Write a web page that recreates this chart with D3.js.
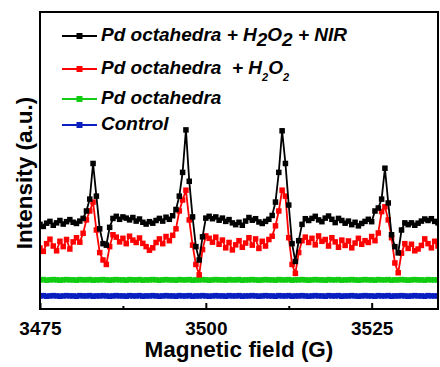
<!DOCTYPE html>
<html>
<head>
<meta charset="utf-8">
<script src="https://cdn.jsdelivr.net/npm/d3@7"></script>
<style>
  body { margin: 0; background: #fff; }
  svg text { font-family: "Liberation Sans", Arial, sans-serif; font-weight: bold; white-space: pre; }
</style>
</head>
<body>
<svg id="chart" width="440" height="367"></svg>
<script>
// field sampling grid (G)
const fieldStart = 3475;
const fieldStep = 0.5;

// intensity values (arbitrary units)
const nirValues = [
  28.5, 27.8, 28.9, 29.5, 28.2, 29.0, 29.8, 28.6, 29.4, 30.1, 29.2, 28.8, 29.6,
  30.5, 33, 37, 49, 38, 27, 22, 21.5, 27.5, 30.5, 31.2,
  30.2, 31.0, 30.6, 30.0, 30.8, 29.6, 30.3, 29.2, 28.6, 29.4, 28.9, 29.8, 30.5, 29.6, 30.9, 30.2, 31.4,
  33.5, 38, 46, 60.3, 43, 31, 21, 16.5, 24.3, 30.6, 31.2,
  30.4, 31.0, 29.9, 30.6, 29.5, 30.1, 29.0, 28.4, 29.2, 28.2, 29.6, 30.8, 29.9, 30.4, 29.3, 28.8, 29.5, 30.2,
  31.5, 36, 46, 60, 49, 35, 22, 16, 23, 28.5, 30.4,
  29.8, 30.5, 31.2, 30.0, 29.4, 30.6, 31.3, 30.2, 29.1, 30.5, 29.8, 28.9, 29.6, 28.4, 29.2, 28.0, 28.8, 29.5, 30.2, 29.4,
  33, 34, 37, 47.4, 35.7, 25, 21, 18.9, 26.6, 29,
  28.4, 29.0, 28.2, 28.9, 29.6, 30.3, 29.8, 30.4, 29.5, 29.0
];
const h2o2Values = [
  20.5, 19.4, 22.0, 23.5, 21.2, 19.6, 22.8, 21.0, 23.4, 20.2, 22.6, 24.0, 22.5,
  25.5, 30, 33, 36, 26.6, 19, 16.5, 15, 21, 25,
  24.2, 22.6, 23.8, 22.0, 24.5, 23.2, 22.4, 23.9, 22.1, 21.0, 19.8, 20.6, 22.4, 23.6, 22.0, 24.4, 23.0, 24.8,
  27, 33, 36.7, 40, 30, 21.5, 15, 11.5, 20, 24.6,
  23.8, 22.5, 24.2, 21.8, 23.2, 20.6, 22.4, 19.9, 21.6, 23.0, 20.8, 22.2, 24.0, 21.5, 23.6, 20.4, 22.8, 21.2, 23.4,
  24.5, 28, 33, 40, 38, 24, 15, 12, 19, 23,
  24.2, 22.4, 23.8, 21.6, 24.6, 22.8, 23.4, 21.2, 24.0, 22.6, 20.8, 23.2, 21.4, 22.9, 20.6, 22.2, 23.8, 21.8, 23.0, 22.4, 24.4,
  23, 25.6, 32.8, 34.4, 30, 24, 15.5, 12.2, 18.8, 22,
  20.4, 21.8, 19.6, 20.2, 21.4, 23.6, 22.0, 20.6, 22.8, 21.2
];
const pdValues = [
  9.8, 9.9, 9.7, 9.8, 9.9, 9.8, 9.7, 9.8, 9.9, 9.8, 9.8, 9.7, 9.9, 9.8, 9.8, 9.9, 9.7, 9.8, 9.8, 9.9,
  9.8, 9.7, 9.8, 9.9, 9.8, 9.8, 9.7, 9.9, 9.8, 9.8, 9.9, 9.7, 9.8, 9.8, 9.9, 9.8, 9.7, 9.8, 9.9, 9.8,
  9.8, 9.7, 9.9, 9.8, 9.8, 9.9, 9.7, 9.8, 9.8, 9.9, 9.8, 9.7, 9.8, 9.9, 9.8, 9.8, 9.7, 9.9, 9.8, 9.8,
  9.9, 9.7, 9.8, 9.8, 9.9, 9.8, 9.7, 9.8, 9.9, 9.8, 9.8, 9.7, 9.9, 9.8, 9.8, 9.9, 9.7, 9.8, 9.8, 9.9,
  9.8, 9.7, 9.8, 9.9, 9.8, 9.8, 9.7, 9.9, 9.8, 9.8, 9.9, 9.7, 9.8, 9.8, 9.9, 9.8, 9.7, 9.8, 9.9, 9.8,
  9.8, 9.7, 9.9, 9.8, 9.8, 9.9, 9.7, 9.8, 9.8, 9.9, 9.8, 9.7, 9.8, 9.9, 9.8, 9.8, 9.7, 9.9, 9.8, 9.8,
  9.8
];
const controlValues = [
  4.4, 4.5, 4.3, 4.4, 4.5, 4.4, 4.3, 4.4, 4.5, 4.4, 4.4, 4.3, 4.5, 4.4, 4.4, 4.5, 4.3, 4.4, 4.4, 4.5,
  4.4, 4.3, 4.4, 4.5, 4.4, 4.4, 4.3, 4.5, 4.4, 4.4, 4.5, 4.3, 4.4, 4.4, 4.5, 4.4, 4.3, 4.4, 4.5, 4.4,
  4.4, 4.3, 4.5, 4.4, 4.4, 4.5, 4.3, 4.4, 4.4, 4.5, 4.4, 4.3, 4.4, 4.5, 4.4, 4.4, 4.3, 4.5, 4.4, 4.4,
  4.5, 4.3, 4.4, 4.4, 4.5, 4.4, 4.3, 4.4, 4.5, 4.4, 4.4, 4.3, 4.5, 4.4, 4.4, 4.5, 4.3, 4.4, 4.4, 4.5,
  4.4, 4.3, 4.4, 4.5, 4.4, 4.4, 4.3, 4.5, 4.4, 4.4, 4.5, 4.3, 4.4, 4.4, 4.5, 4.4, 4.3, 4.4, 4.5, 4.4,
  4.4, 4.3, 4.5, 4.4, 4.4, 4.5, 4.3, 4.4, 4.4, 4.5, 4.4, 4.3, 4.4, 4.5, 4.4, 4.4, 4.3, 4.5, 4.4, 4.4,
  4.4
];

const majorTicks = [3475, 3500, 3525];
const minorTicks = [3487.5, 3512.5];

const series = [
  { name: "control", values: controlValues, color: "#0a1fbf" },
  { name: "pd", values: pdValues, color: "#11cc11" },
  { name: "h2o2", values: h2o2Values, color: "#ff0000" },
  { name: "nir", values: nirValues, color: "#000000" }
];

const svg = d3.select("#chart");
const margin = { left: 40, right: 2, top: 12, bottom: 58 };
const width = 440, height = 367;

const x = d3.scaleLinear().domain([3475, 3535]).range([margin.left, width - margin.right]);
const y = d3.scaleLinear().domain([0, 100]).range([height - margin.bottom, margin.top]);

svg.append("clipPath").attr("id", "clip")
  .append("rect")
  .attr("x", margin.left).attr("y", margin.top)
  .attr("width", width - margin.left - margin.right)
  .attr("height", height - margin.top - margin.bottom);

const plot = svg.append("g").attr("clip-path", "url(#clip)");

const line = d3.line()
  .x((d, i) => x(fieldStart + i * fieldStep))
  .y(d => y(d));

const ms = 5.5; // marker size
series.forEach(s => {
  const g = plot.append("g");
  g.append("path")
    .datum(s.values)
    .attr("fill", "none")
    .attr("stroke", s.color)
    .attr("stroke-width", 1.8)
    .attr("d", line);
  g.selectAll("rect")
    .data(s.values)
    .enter().append("rect")
    .attr("x", (d, i) => x(fieldStart + i * fieldStep) - ms / 2)
    .attr("y", d => y(d) - ms / 2)
    .attr("width", ms)
    .attr("height", ms)
    .attr("fill", s.color);
});

// frame
svg.append("rect")
  .attr("x", margin.left).attr("y", margin.top)
  .attr("width", width - margin.left - margin.right)
  .attr("height", height - margin.top - margin.bottom)
  .attr("fill", "none")
  .attr("stroke", "#000")
  .attr("stroke-width", 2);

// bottom axis, ticks pointing in
const xAxis = svg.append("g")
  .attr("transform", `translate(0,${height - margin.bottom})`)
  .call(d3.axisBottom(x).tickValues(majorTicks).tickSize(-6).tickPadding(12).tickFormat(d3.format("d")));
xAxis.select(".domain").remove();
xAxis.selectAll(".tick line").attr("stroke-width", 2);
xAxis.selectAll(".tick text")
  .attr("font-size", 19)
  .attr("fill", "#000")
  .attr("dy", "0.72em");

svg.append("g")
  .attr("transform", `translate(0,${height - margin.bottom})`)
  .call(d3.axisBottom(x).tickValues(minorTicks).tickSize(-3).tickFormat(""))
  .call(g => g.select(".domain").remove())
  .selectAll(".tick line").attr("stroke-width", 2);

// axis titles
svg.append("text")
  .attr("x", (margin.left + width - margin.right) / 2)
  .attr("y", 357)
  .attr("text-anchor", "middle")
  .attr("font-size", 22.5)
  .text("Magnetic field (G)");

svg.append("text")
  .attr("transform", "translate(32,173) rotate(-90)")
  .attr("text-anchor", "middle")
  .attr("font-size", 22.5)
  .text("Intensity (a.u.)");

// legend
const legendRows = [
  { color: "#000000", lineY: 36, textY: 41 },
  { color: "#ff0000", lineY: 69, textY: 74 },
  { color: "#11cc11", lineY: 99, textY: 104 },
  { color: "#0a1fbf", lineY: 125, textY: 130 }
];
const legend = svg.append("g");
legendRows.forEach(r => {
  legend.append("line")
    .attr("x1", 62).attr("x2", 97)
    .attr("y1", r.lineY).attr("y2", r.lineY)
    .attr("stroke", r.color).attr("stroke-width", 2);
  legend.append("rect")
    .attr("x", 76.5).attr("y", r.lineY - 3)
    .attr("width", 6).attr("height", 6)
    .attr("fill", r.color);
});

const legendText = (yPos) => legend.append("text")
  .attr("x", 101).attr("y", yPos)
  .attr("font-size", 19)
  .attr("font-style", "italic");

const t1 = legendText(legendRows[0].textY);
t1.append("tspan").text("Pd octahedra + H");
t1.append("tspan").attr("dy", 5).text("2");
t1.append("tspan").attr("dy", -5).text("O");
t1.append("tspan").attr("dy", 5).text("2");
t1.append("tspan").attr("dy", -5).text(" + NIR");

const t2 = legendText(legendRows[1].textY);
t2.append("tspan").text("Pd octahedra  + H");
t2.append("tspan").attr("dy", 7).attr("font-size", 11).text("2");
t2.append("tspan").attr("dy", -7).text("O");
t2.append("tspan").attr("dy", 7).attr("font-size", 11).text("2");

legendText(legendRows[2].textY).text("Pd octahedra");
legendText(legendRows[3].textY).text("Control");
</script>
</body>
</html>
